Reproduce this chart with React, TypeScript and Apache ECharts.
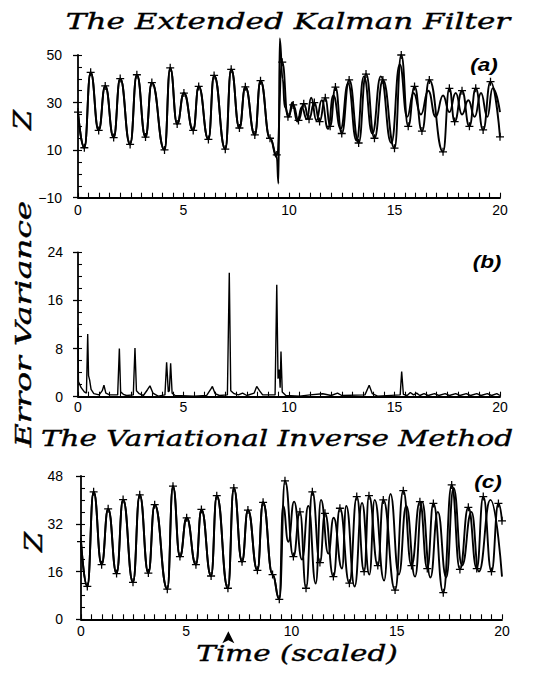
import React, { useEffect, useRef } from "react";
import * as echarts from "echarts";

type Pt = [number, number];

const truthPre: Pt[] = [
  [0, 26], [0.3, 11], [0.6, 42.7], [0.98, 18.3], [1.29, 37], [1.69, 15.3],
  [2.0, 40.1], [2.47, 12.4], [2.79, 41.7], [3.2, 15.5], [3.5, 38.4], [4.1, 10.1],
  [4.37, 44.6], [4.7, 21], [5.02, 34], [5.46, 18.3], [5.72, 36.8], [6.18, 14.5],
  [6.45, 41.4], [6.98, 10.4], [7.26, 44], [7.65, 19.3], [7.93, 36.6], [8.38, 16.4],
  [8.65, 39.2], [9.1, 15],
];

// Panel (a) – Extended Kalman Filter
const ekfTruthPost: Pt[] = [
  [9.42, 8], [9.68, 47], [9.95, 24], [10.2, 29], [10.45, 22.5], [10.7, 29.5],
  [10.95, 23], [11.2, 30], [11.45, 22], [11.72, 32], [11.95, 20], [12.2, 36.5],
  [12.5, 17], [12.85, 39.5], [13.3, 13], [13.65, 42], [14.05, 15], [14.45, 39.5],
  [15.0, 10.8], [15.32, 50], [15.65, 20], [15.95, 36.8], [16.3, 18], [16.65, 39.5],
  [17.3, 9.3], [17.6, 36], [17.85, 22], [18.2, 35], [18.55, 20], [18.85, 36],
  [19.2, 18.5], [19.55, 38.8], [20.0, 15.6],
];
const ekfEstimatePost: Pt[] = [
  [9.42, 7], [9.5, -4], [9.56, 57], [9.7, 40], [9.8, 28], [10.0, 24], [10.15, 30],
  [10.4, 22], [10.6, 28], [10.85, 23], [11.05, 32], [11.3, 22.5], [11.55, 31],
  [11.85, 19], [12.1, 33], [12.45, 19], [12.8, 38], [13.2, 14], [13.55, 41],
  [13.95, 17], [14.35, 41], [14.85, 13], [15.25, 46], [15.6, 24], [15.9, 34],
  [16.25, 25], [16.6, 35], [16.95, 24], [17.3, 33], [17.6, 26], [17.9, 34],
  [18.2, 25], [18.5, 31], [18.8, 24], [19.1, 34], [19.4, 24], [19.65, 36], [20.0, 26],
];

// Panel (b) – error variance
const errorVariance: Pt[] = [
  [0, 11.5], [0.02, 2.5], [0.15, 1.5], [0.3, 0.8], [0.4, 0.6], [0.46, 10.4], [0.5, 3.5],
  [0.55, 2.8], [0.62, 1.2], [0.75, 0.5], [1.0, 0.3], [1.15, 1.0], [1.23, 1.9], [1.32, 0.6],
  [1.5, 0.3], [1.88, 0.3], [1.96, 8.0], [2.02, 0.8], [2.15, 0.4], [2.3, 0.2], [2.62, 0.3],
  [2.7, 8.1], [2.77, 1.0], [2.9, 0.5], [3.1, 0.2], [3.3, 1.2], [3.41, 1.8], [3.55, 0.6],
  [3.8, 0.1], [4.12, 0.3], [4.2, 5.7], [4.28, 0.8], [4.33, 1.0], [4.39, 5.55], [4.46, 0.6],
  [4.6, 0.2], [5.5, 0.1], [6.1, 0.2], [6.3, 1.3], [6.37, 1.7], [6.5, 0.5], [6.7, 0.2],
  [7.08, 0.3], [7.17, 20.6], [7.24, 1.0], [7.4, 0.5], [7.6, 0.3], [7.8, 0.6], [8.0, 0.2],
  [8.35, 0.6], [8.47, 1.7], [8.6, 1.0], [8.75, 0.3], [9.34, 0.3], [9.42, 18.6], [9.48, 3.0],
  [9.54, 4.5], [9.58, 1.5], [9.62, 7.5], [9.68, 0.8], [9.85, 0.2], [10.5, 0.1], [11.0, 0.3],
  [11.6, 0.5], [12.0, 0.2], [12.3, 0.6], [12.5, 0.2], [13.6, 0.3], [13.8, 1.9], [13.95, 0.5],
  [14.2, 0.1], [15.27, 0.3], [15.34, 4.2], [15.42, 0.4], [15.6, 0.2], [15.75, 0.7], [15.9, 0.3],
  [16.05, 0.6], [16.2, 0.2], [16.4, 0.5], [16.6, 0.2], [16.9, 0.5], [17.1, 0.2], [17.4, 0.5],
  [17.6, 0.2], [17.9, 0.5], [18.1, 0.2], [18.4, 0.5], [18.6, 0.2], [18.9, 0.5], [19.1, 0.2],
  [19.4, 0.5], [19.6, 0.2], [19.85, 0.5], [20, 0.2],
];

// Panel (c) – Variational inverse method
const varTruthPost: Pt[] = [
  [9.42, 6.7], [9.69, 46.4], [10.09, 21], [10.4, 36], [10.69, 10.4], [10.99, 42.7],
  [11.35, 19], [11.59, 35.5], [11.99, 14.3], [12.3, 37.2], [12.75, 12.1], [13.1, 41.1],
  [13.45, 16], [13.68, 41.4], [14.1, 18], [14.36, 40], [14.92, 9.8], [15.31, 43.1],
  [15.7, 18], [16.1, 39.4], [16.45, 17], [16.74, 38.8], [17.21, 8.9], [17.61, 45],
  [18.0, 16.7], [18.4, 37.5], [18.8, 17], [19.11, 41.1], [19.5, 16], [19.83, 38.8], [20.0, 33],
];
const varEstimatePost: Pt[] = [
  [9.42, 6.7], [9.6, 38], [9.85, 26], [10.12, 39.4], [10.5, 20], [10.8, 38], [11.15, 12],
  [11.4, 40], [11.75, 22], [12.0, 34], [12.4, 17], [12.6, 38], [13.0, 11], [13.35, 39],
  [13.7, 15], [13.95, 40], [14.4, 13], [14.7, 42], [15.1, 15], [15.45, 38], [15.87, 14.3],
  [16.2, 39.4], [16.6, 14], [16.95, 36], [17.35, 14], [17.7, 44], [18.1, 18], [18.55, 36],
  [18.9, 16], [19.45, 40], [20.0, 14.3],
];
const arrowTime = [7];

const xTickLabels = [0, 5, 10, 15, 20];
const yTicksA = [-10, 10, 30, 50];
const yTicksB = [0, 8, 16, 24];
const yTicksC = [0, 16, 32, 48];

const PLUS = "path://M-0.8,-5H0.8V-0.8H5V0.8H0.8V5H-0.8V0.8H-5V-0.8H-0.8Z";
const TICK_FONT = "Liberation Sans";
const SERIF = "DejaVu Serif";

function xAxisFor(gridIndex: number, margin: number) {
  return {
    type: "value",
    gridIndex,
    min: xTickLabels[0],
    max: xTickLabels[xTickLabels.length - 1],
    interval: 0.5,
    axisLine: { show: true, onZero: false, lineStyle: { color: "#000", width: 1.8 } },
    axisTick: { show: true, inside: true, length: 5, lineStyle: { color: "#000", width: 1.1 } },
    axisLabel: {
      show: true,
      margin,
      color: "#000",
      fontFamily: TICK_FONT,
      fontSize: 14,
      formatter: (v: number) => (xTickLabels.indexOf(v) >= 0 ? String(v) : ""),
    },
    splitLine: { show: false },
  };
}

function yAxesFor(gridIndex: number, ticks: number[], minor: number, margin: number) {
  const min = ticks[0];
  const max = ticks[ticks.length - 1];
  return [
    {
      type: "value",
      gridIndex,
      position: "left",
      min,
      max,
      interval: ticks[1] - ticks[0],
      axisLine: { show: true, onZero: false, lineStyle: { color: "#000", width: 1.8 } },
      axisTick: { show: true, inside: false, length: 5, lineStyle: { color: "#000", width: 1.3 } },
      axisLabel: {
        show: true,
        margin,
        color: "#000",
        fontFamily: TICK_FONT,
        fontSize: 14,
        formatter: (v: number) => (v < 0 ? "\u2212" + Math.abs(v) : String(v)),
      },
      splitLine: { show: false },
    },
    {
      type: "value",
      gridIndex,
      position: "left",
      min,
      max,
      interval: minor,
      axisLine: { show: false, onZero: false },
      axisTick: { show: true, inside: true, length: 4, lineStyle: { color: "#000", width: 1.1 } },
      axisLabel: { show: false },
      splitLine: { show: false },
    },
  ];
}

function lineSeries(data: Pt[], xi: number, yi: number, withMarks: boolean, extra: any = {}) {
  return {
    type: "line",
    xAxisIndex: xi,
    yAxisIndex: yi,
    data,
    smooth: 0.5,
    smoothMonotone: "x",
    showSymbol: withMarks,
    symbol: PLUS,
    symbolSize: 8,
    itemStyle: { color: "#000" },
    lineStyle: { color: "#000", width: 1.9 },
    ...extra,
  };
}

function serifText(text: string, x: number, y: number, size: number, sx: number, rotate = 0) {
  return {
    type: "text",
    x,
    y,
    rotation: rotate,
    scaleX: sx,
    style: {
      text,
      fill: "#000",
      stroke: "#000",
      lineWidth: 0.4,
      fontFamily: SERIF,
      fontStyle: "italic",
      fontSize: size,
      align: "center",
      verticalAlign: "middle",
    },
  };
}

function panelTag(text: string, x: number, y: number) {
  return {
    type: "text",
    x,
    y,
    scaleX: 1.25,
    style: {
      text,
      fill: "#000",
      fontFamily: TICK_FONT,
      fontStyle: "italic",
      fontWeight: "bold",
      fontSize: 18,
      align: "center",
      verticalAlign: "middle",
    },
  };
}

export default function App() {
  const ref = useRef<HTMLDivElement>(null);
  useEffect(() => {
    document.body.style.margin = "0";
    if (!ref.current) return;
    const chart = echarts.init(ref.current, undefined, { renderer: "svg" });
    const option: any = {
      animation: false,
      backgroundColor: "#fff",
      grid: [
        { left: 78, top: 55, width: 422, height: 142.7 },
        { left: 78, top: 252.3, width: 422, height: 144.4 },
        { left: 81, top: 476, width: 421, height: 143.3 },
      ],
      xAxis: [xAxisFor(0, 5), xAxisFor(1, 3), xAxisFor(2, 5)],
      yAxis: [
        ...yAxesFor(0, yTicksA, 5, 16),
        ...yAxesFor(1, yTicksB, 2, 15),
        ...yAxesFor(2, yTicksC, 4, 18),
      ],
      series: [
        lineSeries([...truthPre, ...ekfTruthPost], 0, 0, true),
        lineSeries([...truthPre, ...ekfEstimatePost], 0, 0, false, { clip: false }),
        {
          type: "line",
          xAxisIndex: 1,
          yAxisIndex: 2,
          data: errorVariance,
          showSymbol: false,
          lineStyle: { color: "#000", width: 1.4 },
        },
        lineSeries([...truthPre, ...varTruthPost], 2, 4, true, {
          markPoint: {
            symbol: "arrow",
            symbolSize: [9, 12],
            symbolOffset: [0, 12],
            itemStyle: { color: "#000" },
            label: { show: false },
            data: arrowTime.map((t) => ({ coord: [t, yTicksC[0]] })),
          },
        }),
        lineSeries([...truthPre, ...varEstimatePost], 2, 4, false),
      ],
      graphic: [
        serifText("The Extended Kalman Filter", 288, 21, 23, 1.35),
        serifText("The Variational Inverse Method", 277, 438, 23, 1.28),
        serifText("Time (scaled)", 297, 653, 23, 1.28),
        serifText("Z", 22, 120, 24, 1.2, Math.PI / 2),
        serifText("Error Variance", 23, 324, 23, 1.43, Math.PI / 2),
        serifText("Z", 33, 542, 24, 1.2, Math.PI / 2),
        panelTag("(a)", 484, 65),
        panelTag("(b)", 487, 262),
        panelTag("(c)", 488, 482),
      ],
    };
    chart.setOption(option);
    return () => chart.dispose();
  }, []);
  return <div ref={ref} style={{ width: 548, height: 673 }} />;
}
